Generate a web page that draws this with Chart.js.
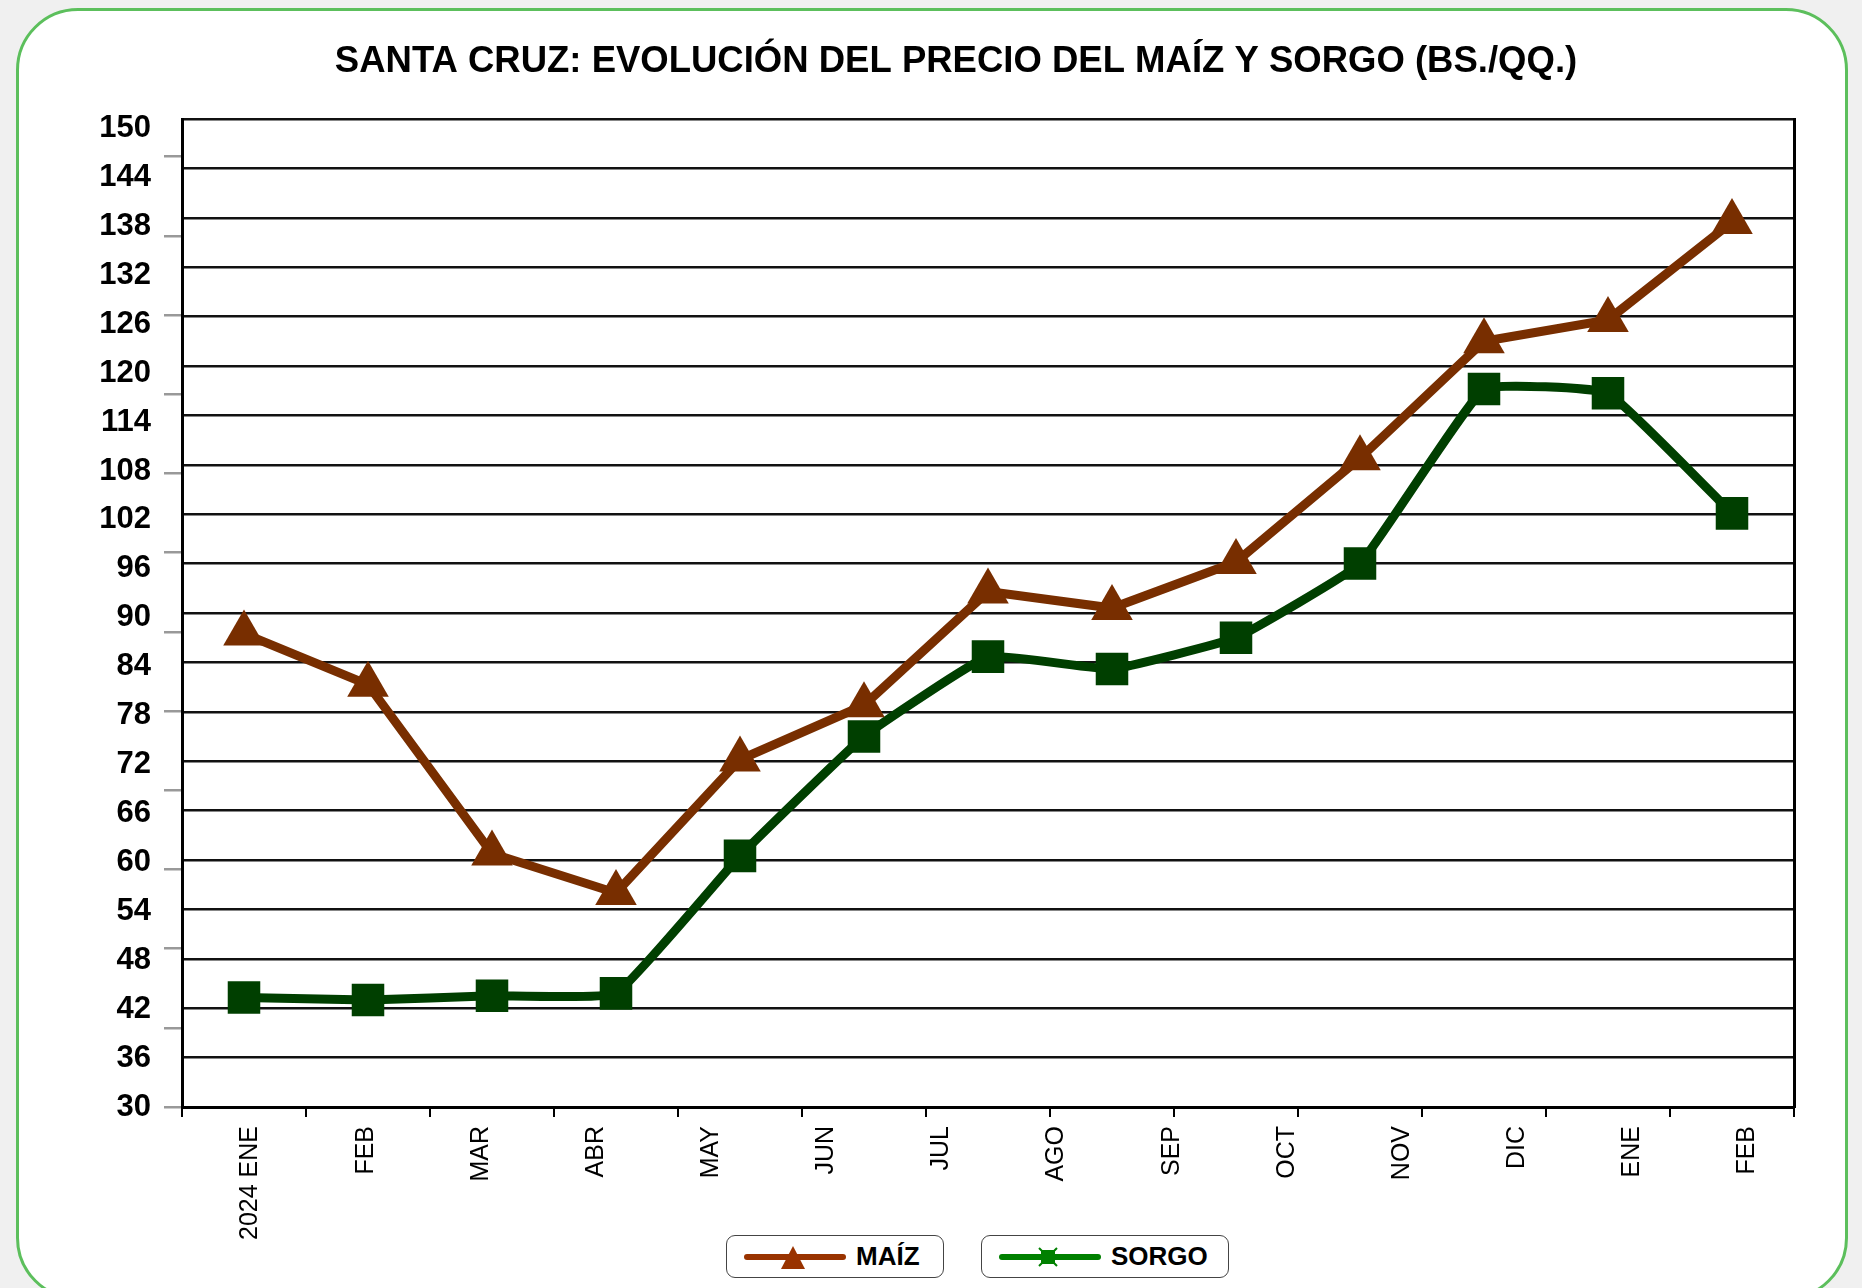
<!DOCTYPE html>
<html><head><meta charset="utf-8">
<script src="https://cdn.jsdelivr.net/npm/chart.js@4.4.1/dist/chart.umd.min.js"></script>
<style>
html,body{margin:0;padding:0;width:1862px;height:1288px;overflow:hidden;background:#f0f0f0;}
#card{position:absolute;left:16px;top:8px;width:1832px;height:1292px;box-sizing:border-box;border:3px solid #5cbf5c;border-radius:62px;background:#fff;}
#c{position:absolute;left:0;top:0;}
.lg{position:absolute;top:1235px;height:43px;box-sizing:border-box;border:1.5px solid #444;border-radius:9px;background:#fff;display:flex;align-items:center;font:bold 26px "Liberation Sans",Arial,sans-serif;color:#000;white-space:nowrap;}
.lg svg{margin-left:17px;margin-right:10px;}
</style></head>
<body>
<div id="card"></div>
<canvas id="c" width="1862" height="1288"></canvas>
<div id="legend"></div>
<script>
// ---- data ----
const TITLE = 'SANTA CRUZ: EVOLUCIÓN DEL PRECIO DEL MAÍZ Y SORGO (BS./QQ.)';
const categories = ['2024 ENE','FEB','MAR','ABR','MAY','JUN','JUL','AGO','SEP','OCT','NOV','DIC','ENE','FEB'];
const periods = ['ENE','FEB','MAR','ABR','MAY','JUN','JUL','AGO','SEP','OCT','NOV','DIC','ENE'];
const maiz  = [87.5, 81.3, 60.8, 56.0, 72.2, 78.8, 92.6, 90.6, 96.2, 108.8, 123.0, 125.6, 137.5];
const sorgo = [43.3, 43.0, 43.5, 43.8, 60.5, 75.0, 84.7, 83.2, 87.0, 96.0, 117.2, 116.7, 102.1];
const seriesNames = ['MAÍZ','SORGO'];
const lineColors = ['#782e00','#003f00'];
const legendColors = ['#993300','#008000'];

const FONT = '"Liberation Sans",Arial,sans-serif';

const chart = new Chart(document.getElementById('c').getContext('2d'), {
  type: 'line',
  data: {
    labels: periods,
    datasets: [
      {label: seriesNames[0], data: maiz, borderColor: lineColors[0], backgroundColor: lineColors[0],
       borderWidth: 9, pointStyle: 'triangle', pointRadius: 24, pointBorderWidth: 0, tension: 0,
       xAxisID: 'x', yAxisID: 'y'},
      {label: seriesNames[1], data: sorgo, borderColor: lineColors[1], backgroundColor: lineColors[1],
       borderWidth: 9, pointStyle: 'rect', pointRadius: 23, pointBorderWidth: 0, tension: 0.1,
       xAxisID: 'x', yAxisID: 'y'}
    ]
  },
  options: {
    responsive: false, animation: false, devicePixelRatio: 1,
    layout: {padding: {left: 95, right: 45, top: 0, bottom: 46}},
    plugins: {
      legend: {display: false}, tooltip: {enabled: false},
      title: {display: true, text: TITLE, color: '#000',
        font: {family: FONT, size: 36.5, weight: 'bold'}, padding: {top: 40, bottom: 35.2}}
    },
    scales: {
      x: {type: 'category', position: 'bottom', offset: true, weight: 0,
          grid: {offset: true, drawOnChartArea: false, drawTicks: true, tickLength: 10, color: '#000', lineWidth: 2},
          border: {display: true, color: '#000', width: 3},
          ticks: {display: false}, afterFit(s) { s.height = 10; }},
      x2: {type: 'category', labels: categories, position: 'bottom', offset: true, weight: 1,
          grid: {display: false, drawTicks: false}, border: {display: false},
          ticks: {display: true, autoSkip: false, maxRotation: 90, minRotation: 90, padding: 9, labelOffset: 11,
                  color: '#000', font: {family: FONT, size: 25}},
          afterFit(s) { s.height = 125; }},
      y: {type: 'linear', position: 'left', min: 30, max: 150, weight: 0,
          ticks: {display: false, stepSize: 6},
          grid: {color: '#111', lineWidth: 2.5, drawTicks: false},
          border: {color: '#000', width: 3}, afterFit(s) { s.width = 0; }},
      yt: {type: 'linear', position: 'left', min: 0, max: 12.475, weight: 1,
          ticks: {display: false, stepSize: 1, includeBounds: false},
          grid: {drawOnChartArea: false, drawTicks: true, tickLength: 18, color: '#999', lineWidth: 2.5},
          border: {display: false}, afterFit(s) { s.width = 18; }},
      yl: {type: 'linear', position: 'left', min: 30, max: 151.17, weight: 2,
          ticks: {stepSize: 6, includeBounds: false, padding: 13, color: '#000',
                  font: {family: FONT, size: 31, weight: 'bold'}},
          grid: {display: false, drawTicks: false}, border: {display: false},
          afterFit(s) { s.width = 69; }},
      yr: {type: 'linear', position: 'right', min: 30, max: 150,
          ticks: {display: false}, grid: {drawOnChartArea: false, drawTicks: false},
          border: {display: true, color: '#000', width: 3}, afterFit(s) { s.width = 23; }}
    }
  }
});

// ---- HTML legend built from the datasets ----
const legendBoxes = [{left: 726, width: 218}, {left: 981, width: 248}];
const legend = document.getElementById('legend');
chart.data.datasets.forEach((ds, i) => {
  const box = document.createElement('div');
  box.className = 'lg';
  box.style.left = legendBoxes[i].left + 'px';
  box.style.width = legendBoxes[i].width + 'px';
  const c = legendColors[i];
  const marker = i === 0
    ? `<polygon points="37,32 61,32 49,9" fill="${c}"/>`
    : `<rect x="42" y="13" width="14" height="14" fill="${c}"/><path d="M40 11 L58 29 M58 11 L40 29" stroke="${c}" stroke-width="2"/>`;
  box.innerHTML = `<svg width="102" height="40" viewBox="0 0 102 40"><line x1="3" y1="20" x2="99" y2="20" stroke="${c}" stroke-width="6" stroke-linecap="round"/>${marker}</svg><span>${ds.label}</span>`;
  legend.appendChild(box);
});
</script>
</body></html>
